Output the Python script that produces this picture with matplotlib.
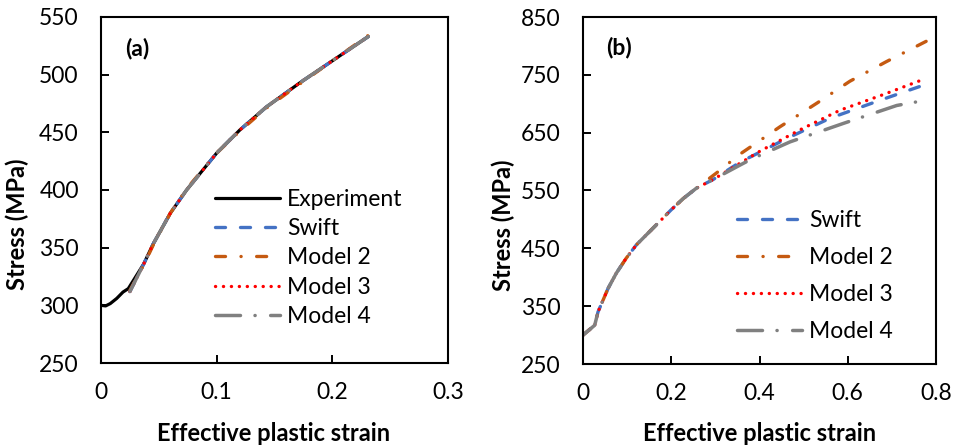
import matplotlib
matplotlib.use("Agg")
import matplotlib.pyplot as plt

plt.rcParams['font.family'] = ['Lato', 'DejaVu Sans']
plt.rcParams['lines.scale_dashes'] = False

# ---------------- data: panel (a) ----------------
exp_x = [0.000, 0.004, 0.008, 0.0136, 0.019, 0.0236, 0.037, 0.045, 0.060, 0.074, 0.100, 0.120, 0.143, 0.172, 0.200, 0.231]
exp_y = [300, 299.5, 301.5, 306, 311.5, 314.5, 336, 353, 380, 400, 432, 452, 472, 493, 512, 533]

a_x = [0.025, 0.037, 0.045, 0.060, 0.074, 0.100, 0.120, 0.143, 0.172, 0.200, 0.231]
a_swift = [312, 336, 353, 380, 400, 432, 452, 472, 493, 512, 533]
a_model2 = [313, 335, 352, 380, 401, 432, 451, 471, 492, 512, 534]
a_model3 = [312, 336, 353, 380, 400, 432, 452, 472, 493, 512, 533]
a_model4 = [312, 336, 353, 380, 400, 432, 452, 472, 493, 512, 533]

# ---------------- data: panel (b) ----------------
b_x_common = [0.0, 0.0265, 0.034, 0.057, 0.0755, 0.098, 0.121, 0.151, 0.181, 0.199, 0.227, 0.257]
b_y_common = [300, 317, 340, 381, 407, 433, 456, 479, 502, 516, 536, 554]

b_swift_x = [0.295, 0.356, 0.408, 0.462, 0.560, 0.673, 0.779]
b_swift_y = [569, 599, 619, 640, 675, 706, 734]
b_model2_x = [0.302, 0.356, 0.446, 0.530, 0.605, 0.688, 0.783]
b_model2_y = [580, 613, 660, 701, 739, 773, 810]
b_model3_x = [0.295, 0.401, 0.492, 0.583, 0.681, 0.764]
b_model3_y = [569, 618, 655, 689, 716, 740]
b_model4_x = [0.295, 0.356, 0.381, 0.469, 0.590, 0.711, 0.776]
b_model4_y = [569, 594, 604, 634, 666, 697, 706]

PX = 72 / 100.0  # pixel -> point at dpi 100
FS = 16.5

styles = {
    "Experiment": dict(color="#000000", lw=2.3, ls="-"),
    "Swift": dict(color="#4472C4", lw=2.4, dashes=(10 * PX, 15 * PX)),
    "Model 2": dict(color="#C55A11", lw=2.4, dashes=(10 * PX, 15.5 * PX, 0.1, 15.5 * PX)),
    "Model 3": dict(color="#FF0000", lw=2.4, dashes=(0.1, 7.8 * PX)),
    "Model 4": dict(color="#808080", lw=2.5, dashes=(25 * PX, 14.5 * PX, 0.1, 15.5 * PX)),
}


def draw(ax, x, y, name):
    st = dict(styles[name])
    kw = dict(color=st.pop("color"), lw=st.pop("lw"), label=name,
              solid_capstyle="round", dash_capstyle="round")
    if "dashes" in st:
        kw["dashes"] = st["dashes"]
    else:
        kw["ls"] = st["ls"]
    ax.plot(x, y, **kw)


fig = plt.figure(figsize=(9.54, 4.48), dpi=100)
axa = fig.add_axes([101 / 954, 1 - 363 / 448, 347 / 954, 346 / 448])
axb = fig.add_axes([583 / 954, 1 - 364 / 448, 353 / 954, 347 / 448])

draw(axa, exp_x, exp_y, "Experiment")
draw(axa, a_x, a_swift, "Swift")
draw(axa, a_x, a_model2, "Model 2")
draw(axa, a_x, a_model3, "Model 3")
draw(axa, a_x, a_model4, "Model 4")

draw(axb, b_x_common + b_swift_x, b_y_common + b_swift_y, "Swift")
draw(axb, b_x_common + b_model2_x, b_y_common + b_model2_y, "Model 2")
draw(axb, b_x_common + b_model3_x, b_y_common + b_model3_y, "Model 3")
draw(axb, b_x_common + b_model4_x, b_y_common + b_model4_y, "Model 4")

axa.set_xlim(0, 0.3)
axa.set_ylim(250, 550)
axa.set_xticks([0, 0.1, 0.2, 0.3])
axa.set_xticklabels(["0", "0.1", "0.2", "0.3"])
axa.set_yticks([250, 300, 350, 400, 450, 500, 550])

axb.set_xlim(0, 0.8)
axb.set_ylim(250, 850)
axb.set_xticks([0, 0.2, 0.4, 0.6, 0.8])
axb.set_xticklabels(["0", "0.2", "0.4", "0.6", "0.8"])
axb.set_yticks([250, 350, 450, 550, 650, 750, 850])

for ax in (axa, axb):
    for sp in ax.spines.values():
        sp.set_linewidth(1.5)
        sp.set_color("black")
    ax.tick_params(direction="in", length=5.5, width=1.4, labelsize=FS, pad=16,
                   top=False, right=False)
    ax.tick_params(axis="x", pad=14)

axa.set_xlabel("Effective plastic strain", fontsize=17, fontweight="bold", va="center")
axa.xaxis.set_label_coords(0.497, -0.205)
axa.set_ylabel("Stress (MPa)", fontsize=17, fontweight="bold", va="center")
axa.yaxis.set_label_coords(-0.242, 0.40)

axb.set_xlabel("Effective plastic strain", fontsize=17, fontweight="bold", va="center")
axb.xaxis.set_label_coords(0.499, -0.199)
axb.set_ylabel("Stress (MPa)", fontsize=17, fontweight="bold", va="center")
axb.yaxis.set_label_coords(-0.227, 0.40)

axa.text(0.105, 0.909, "(a)", transform=axa.transAxes, fontsize=FS, fontweight="bold",
         ha="center", va="center")
axb.text(0.1006, 0.9115, "(b)", transform=axb.transAxes, fontsize=FS, fontweight="bold",
         ha="center", va="center")

axa.legend(loc="upper left", bbox_to_anchor=(0.3285, 0.503), frameon=False, fontsize=FS,
           handlelength=2.84, handletextpad=0.3, labelspacing=0.36,
           borderpad=0, borderaxespad=0)
axb.legend(loc="upper left", bbox_to_anchor=(0.436, 0.445), frameon=False, fontsize=FS,
           handlelength=2.84, handletextpad=0.3, labelspacing=0.71,
           borderpad=0, borderaxespad=0)

fig.savefig("out.png", dpi=100)
